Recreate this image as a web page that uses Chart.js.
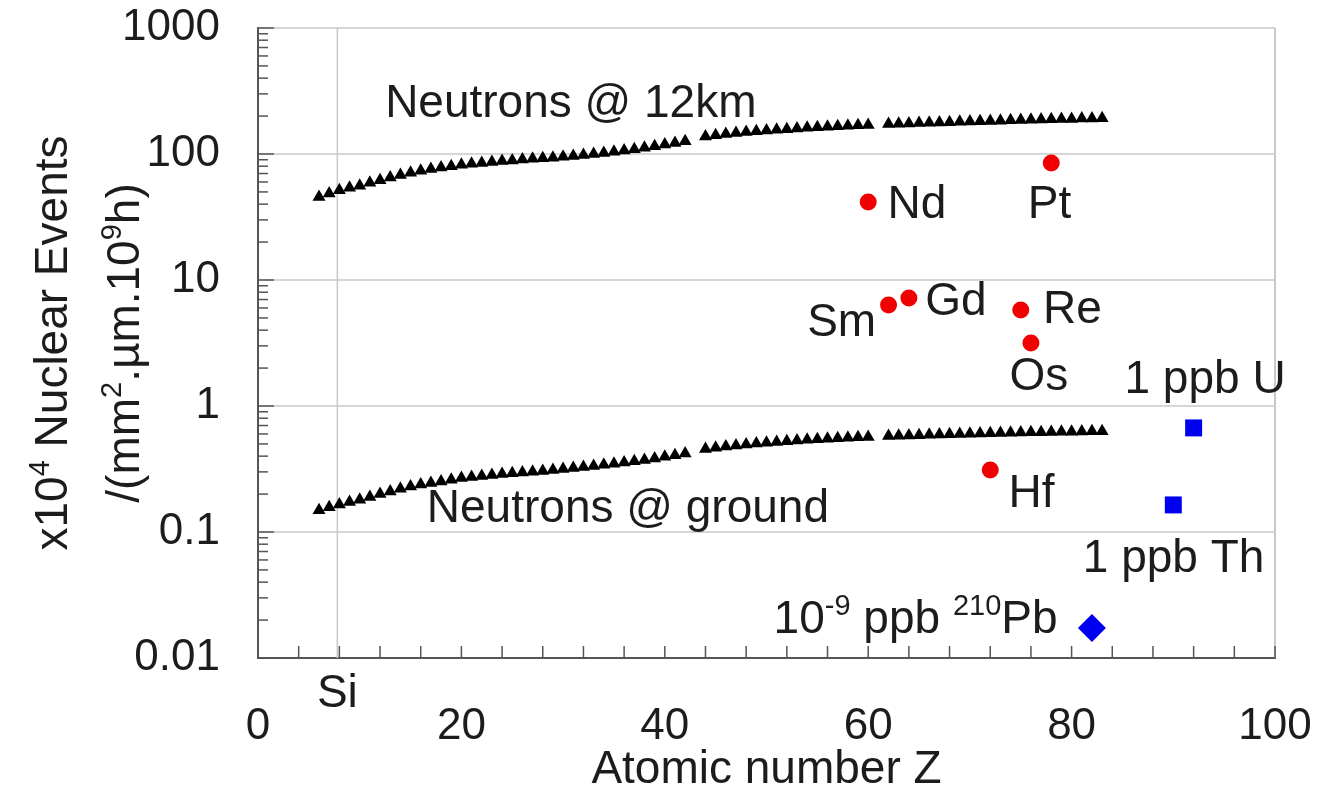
<!DOCTYPE html>
<html>
<head>
<meta charset="utf-8">
<title>Nuclear events vs atomic number</title>
<script src="https://cdn.jsdelivr.net/npm/chart.js@4.4.0/dist/chart.umd.min.js"></script>
<style>
  html, body { margin: 0; padding: 0; background: #fff; }
  #wrap { width: 1333px; height: 789px; }
</style>
</head>
<body>
<div id="wrap"><canvas id="chart" width="1333" height="789"></canvas></div>
<script>
// Data
const atomicZ = [
    6, 7, 8, 9, 10, 11, 12, 13, 14, 15,
    16, 17, 18, 19, 20, 21, 22, 23, 24, 25,
    26, 27, 28, 29, 30, 31, 32, 33, 34, 35,
    36, 37, 38, 39, 40, 41, 42,
    44, 45, 46, 47, 48, 49, 50, 51, 52, 53,
    54, 55, 56, 57, 58, 59, 60,
    62, 63, 64, 65, 66, 67, 68, 69, 70, 71,
    72, 73, 74, 75, 76, 77, 78, 79, 80, 81, 82, 83
];
const neutrons12km = [
    45.6, 48.5, 51.5, 54, 56, 59, 62, 65, 68, 71,
    73.5, 76, 78, 80, 82, 83.5, 85, 86.5, 88, 89,
    90.5, 91.5, 92.5, 93.5, 95, 96.5, 98, 100, 102, 104,
    106.5, 109, 112, 115, 119, 122.5, 126,
    138, 141, 144, 147, 149.5, 151.5, 153.5, 155.5, 157.5, 159.5,
    161.5, 163, 164.5, 166, 167.5, 169, 170,
    173, 174, 175, 176, 177, 178, 179, 180, 181, 182,
    183, 184, 185, 186, 187, 188, 188.5, 189.5, 190, 191, 191.5, 192
];
const neutronsGround = [
    0.149, 0.157, 0.165, 0.173, 0.18, 0.19, 0.2, 0.21, 0.22, 0.23,
    0.238, 0.245, 0.252, 0.26, 0.268, 0.273, 0.278, 0.283, 0.288, 0.292,
    0.297, 0.301, 0.305, 0.31, 0.316, 0.322, 0.328, 0.334, 0.341, 0.348,
    0.356, 0.364, 0.373, 0.383, 0.395, 0.407, 0.42,
    0.456, 0.466, 0.476, 0.486, 0.495, 0.503, 0.511, 0.518, 0.525, 0.532,
    0.539, 0.545, 0.55, 0.555, 0.56, 0.564, 0.567,
    0.578, 0.581, 0.584, 0.587, 0.59, 0.593, 0.596, 0.599, 0.602, 0.605,
    0.608, 0.611, 0.614, 0.616, 0.618, 0.62, 0.622, 0.624, 0.626, 0.627, 0.629, 0.63
];

// Elementos com isótopos emissores (pontos vermelhos)
const redElements = ['Nd', 'Pt', 'Sm', 'Gd', 'Re', 'Os', 'Hf'];
const redZ = [60, 78, 62, 64, 75, 76, 72];
const redValues = [41.6, 84.9, 6.33, 7.2, 5.78, 3.16, 0.31];

// Impurezas alfa
const impurityNames = ['1 ppb U', '1 ppb Th'];
const impurityZ = [92, 90];
const impurityValues = [0.67, 0.164];
const leadZ = [82];
const leadValues = [0.0173];

const xTickStep = 20;
const yTicks = [0.01, 0.1, 1, 10, 100, 1000];
const siZ = 7.8;

const FONT = '"Liberation Sans", Arial, Helvetica, sans-serif';
const TEXT_COLOR = '#1c1c1c';
const AXIS_COLOR = '#555';

// Textos sobre o gráfico (posição em unidades dos eixos)
const notes = [
    { parts: [['Neutrons @ 12km']], x: 12.5, y: 197 },
    { parts: [['Neutrons @ ground']], x: 16.6, y: 0.12 },
    { parts: [['Nd']], x: 61.9, y: 31 },
    { parts: [['Pt']], x: 75.7, y: 31 },
    { parts: [['Sm']], x: 54, y: 3.59 },
    { parts: [['Gd']], x: 65.6, y: 5.27 },
    { parts: [['Re']], x: 77.2, y: 4.56 },
    { parts: [['Os']], x: 73.9, y: 1.34 },
    { parts: [['Hf']], x: 73.8, y: 0.158 },
    { parts: [['1 ppb U']], x: 85.2, y: 1.27 },
    { parts: [['1 ppb Th']], x: 81.1, y: 0.048 },
    { parts: [['10'], ['-9', 1], [' ppb '], ['210', 1], ['Pb']], x: 50.7, y: 0.0158 }
];

function toPoints(xs, ys) {
    return xs.map((x, i) => ({ x: x, y: ys[i] }));
}

// Desenha texto com partes sobrescritas
function drawParts(ctx, parts, x, y, size) {
    let cx = x;
    parts.forEach(p => {
        const sup = p[1];
        ctx.font = (sup ? Math.round(size * 0.62) : size) + 'px ' + FONT;
        ctx.fillText(p[0], cx, sup ? y - size * 0.4 : y);
        cx += ctx.measureText(p[0]).width;
    });
}

function partsWidth(ctx, parts, size) {
    let w = 0;
    parts.forEach(p => {
        ctx.font = (p[1] ? Math.round(size * 0.62) : size) + 'px ' + FONT;
        w += ctx.measureText(p[0]).width;
    });
    return w;
}

function strokeLine(ctx, x1, y1, x2, y2) {
    ctx.beginPath();
    ctx.moveTo(x1, y1);
    ctx.lineTo(x2, y2);
    ctx.stroke();
}

const decorPlugin = {
    id: 'decor',
    beforeDatasetsDraw(chart) {
        const { ctx, chartArea: a, scales } = chart;
        ctx.save();
        // linha do Si e borda direita
        ctx.strokeStyle = '#c9c9c9';
        ctx.lineWidth = 1.5;
        const sx = scales.x.getPixelForValue(siZ);
        strokeLine(ctx, sx, a.top, sx, a.bottom);
        ctx.lineWidth = 2;
        strokeLine(ctx, a.right, a.top, a.right, a.bottom);
        ctx.restore();
    },
    afterDatasetsDraw(chart) {
        const { ctx, chartArea: a, scales } = chart;
        const xs = scales.x, ys = scales.y;
        ctx.save();

        // marcas internas dos eixos
        ctx.strokeStyle = AXIS_COLOR;
        ctx.lineWidth = 1.5;
        for (let v = 4; v <= 100; v += 4) {
            const px = xs.getPixelForValue(v);
            strokeLine(ctx, px, a.bottom, px, a.bottom - 12);
        }
        for (let d = -2; d <= 3; d++) {
            for (let k = 1; k <= 9; k++) {
                if (d === 3 && k > 1) break;
                const py = ys.getPixelForValue(k * Math.pow(10, d));
                strokeLine(ctx, a.left, py, a.left + (k === 1 ? 16 : 10), py);
            }
        }

        // textos
        ctx.fillStyle = TEXT_COLOR;
        ctx.textAlign = 'left';
        ctx.textBaseline = 'alphabetic';
        notes.forEach(n => {
            drawParts(ctx, n.parts, xs.getPixelForValue(n.x), ys.getPixelForValue(n.y), 46);
        });

        // rótulo Si
        ctx.font = '46px ' + FONT;
        ctx.textAlign = 'center';
        ctx.fillText('Si', xs.getPixelForValue(siZ), a.bottom + 49);

        // título do eixo x
        ctx.fillText('Atomic number Z', (a.left + a.right) / 2, a.bottom + 125);

        // título do eixo y (duas linhas, rotacionado)
        ctx.textAlign = 'left';
        const cy = (a.top + a.bottom) / 2;
        const lines = [
            { parts: [['x10'], ['4', 1], [' Nuclear Events']], base: 67 },
            { parts: [['/(mm'], ['2', 1], ['.\u00b5m.10'], ['9', 1], ['h)']], base: 139 }
        ];
        lines.forEach(l => {
            const w = partsWidth(ctx, l.parts, 46);
            ctx.save();
            ctx.translate(l.base, cy);
            ctx.rotate(-Math.PI / 2);
            drawParts(ctx, l.parts, -w / 2, 0, 46);
            ctx.restore();
        });

        ctx.restore();
    }
};

const ctx = document.getElementById('chart').getContext('2d');

const chart = new Chart(ctx, {
    type: 'scatter',
    data: {
        datasets: [
            {
                label: 'Neutrons @ 12km',
                data: toPoints(atomicZ, neutrons12km),
                pointStyle: 'triangle',
                pointRadius: 7.5,
                backgroundColor: '#000',
                borderColor: '#000',
                borderWidth: 0
            },
            {
                label: 'Neutrons @ ground',
                data: toPoints(atomicZ, neutronsGround),
                pointStyle: 'triangle',
                pointRadius: 7.5,
                backgroundColor: '#000',
                borderColor: '#000',
                borderWidth: 0
            },
            {
                label: 'Elements',
                data: toPoints(redZ, redValues),
                pointStyle: 'circle',
                pointRadius: 8.5,
                backgroundColor: '#f00000',
                borderWidth: 0
            },
            {
                label: 'U / Th',
                data: toPoints(impurityZ, impurityValues),
                pointStyle: 'rect',
                pointRadius: 12,
                backgroundColor: '#0000f0',
                borderWidth: 0
            },
            {
                label: '210Pb',
                data: toPoints(leadZ, leadValues),
                pointStyle: 'rectRot',
                pointRadius: 14,
                backgroundColor: '#0000f0',
                borderWidth: 0
            }
        ]
    },
    options: {
        responsive: false,
        animation: false,
        layout: {
            padding: { left: 0, top: 28, right: 58, bottom: 0 }
        },
        plugins: {
            legend: { display: false },
            tooltip: { enabled: false }
        },
        scales: {
            x: {
                type: 'linear',
                min: 0,
                max: 100,
                afterFit: function(scale) {
                    scale.height = 131;
                    scale.paddingLeft = 0;
                    scale.paddingRight = 0;
                },
                grid: { display: false, drawTicks: false },
                border: { display: true, color: AXIS_COLOR, width: 2 },
                ticks: {
                    stepSize: xTickStep,
                    padding: 42,
                    color: TEXT_COLOR,
                    font: { family: FONT, size: 44 }
                }
            },
            y: {
                type: 'logarithmic',
                min: 0.01,
                max: 1000,
                afterFit: function(scale) {
                    scale.width = 258;
                    scale.paddingTop = 0;
                    scale.paddingBottom = 0;
                },
                afterBuildTicks: function(scale) {
                    scale.ticks = yTicks.map(v => ({ value: v, major: true }));
                },
                grid: { color: '#d6d6d6', lineWidth: 2, drawTicks: false },
                border: { display: true, color: AXIS_COLOR, width: 2 },
                ticks: {
                    padding: 38,
                    color: TEXT_COLOR,
                    font: { family: FONT, size: 44 },
                    callback: function(value) { return String(value); }
                }
            }
        }
    },
    plugins: [decorPlugin]
});
</script>
</body>
</html>
